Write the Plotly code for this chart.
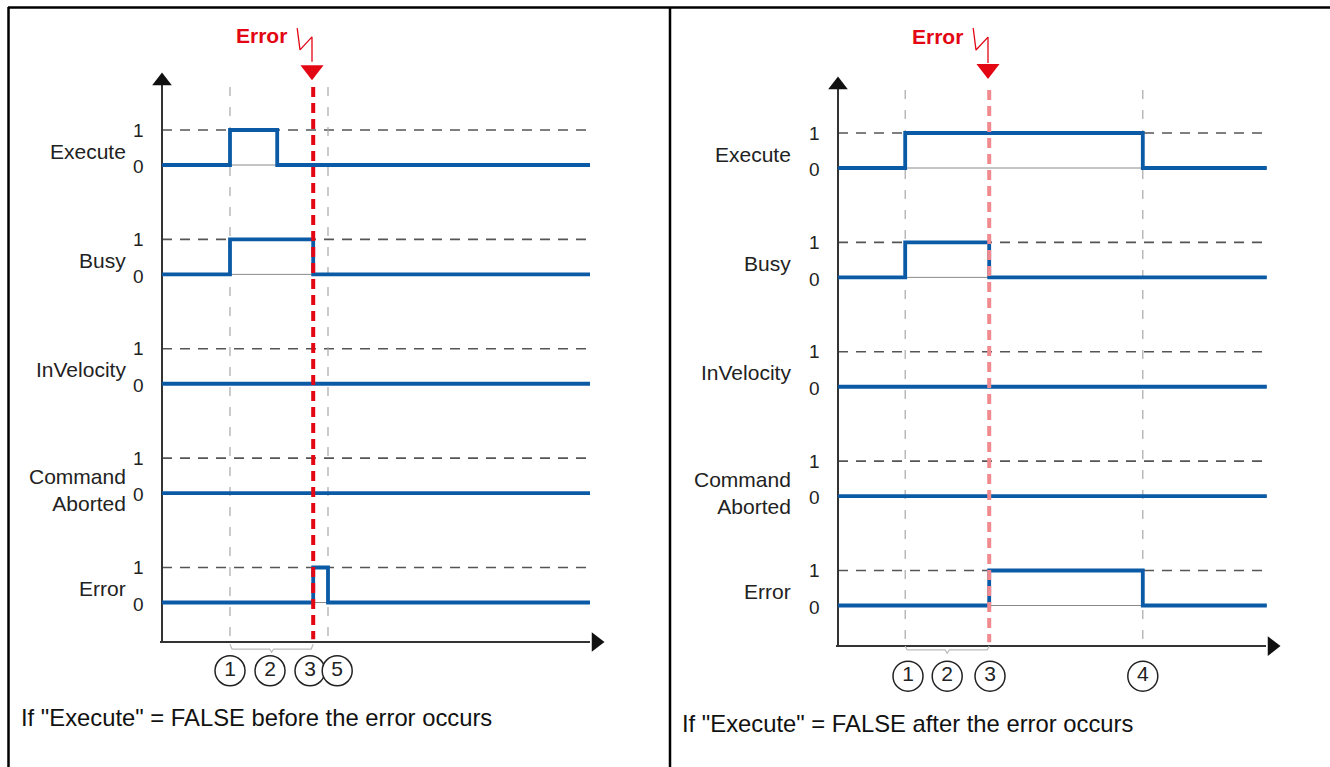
import plotly.graph_objects as go

W, H = 1330, 767
FONT = "Arial, 'Liberation Sans', sans-serif"
BLUE = "#0b5aa6"
RED = "#e30613"
PINK = "#f08a8f"

# ---------------- data ----------------
signals = ["Execute", "Busy", "InVelocity", "Command<br>Aborted", "Error"]

# left: "Execute" = FALSE before the error occurs
t_left = [0, 1.7, 2.88, 3.78, 4.15, 10.7]
execute_left = [0, 1, 0, 0, 0, 0]
busy_left = [0, 1, 1, 0, 0, 0]
invelocity_left = [0, 0, 0, 0, 0, 0]
aborted_left = [0, 0, 0, 0, 0, 0]
error_left = [0, 0, 0, 1, 0, 0]
events_left = [1.7, 4.15]
error_time_left = 3.78
steps_left = ["1", "2", "3", "5"]
steps_left_t = [1.7, 2.7, 3.7, 4.38]
caption_left = 'If "Execute" = FALSE before the error occurs'

# right: "Execute" = FALSE after the error occurs
t_right = [0, 1.68, 3.78, 7.62, 10.72]
execute_right = [0, 1, 1, 0, 0]
busy_right = [0, 1, 0, 0, 0]
invelocity_right = [0, 0, 0, 0, 0]
aborted_right = [0, 0, 0, 0, 0]
error_right = [0, 0, 1, 0, 0]
events_right = [1.68, 7.62]
error_time_right = 3.78
steps_right = ["1", "2", "3", "4"]
steps_right_t = [1.75, 2.73, 3.8, 7.62]
caption_right = 'If "Execute" = FALSE after the error occurs'

ROW = 3.125  # vertical distance between signal rows


def px(x):
    return x / W


def py(y):
    return 1 - y / H


fig = go.Figure()

panels = [
    dict(xa="x", ya="y", t=t_left,
         values=[execute_left, busy_left, invelocity_left, aborted_left, error_left],
         events=events_left, err=error_time_left, err_color=RED,
         steps=steps_left, steps_t=steps_left_t, step_y=-14.45,
         label_x=-0.85, tick_x=-0.6, top=2.66, arrow_top=2.4, red_tri=2.71,
         bottom=-13.63, err_label_y=3.69, zig=[3.91, 3.29, 3.66, 2.95],
         brace=[-13.69, -13.83, -13.92], end=10.7),
    dict(xa="x2", ya="y2", t=t_right,
         values=[execute_right, busy_right, invelocity_right, aborted_right, error_right],
         events=events_right, err=error_time_right, err_color=PINK,
         steps=steps_right, steps_t=steps_right_t, step_y=-14.52,
         label_x=-1.12, tick_x=-0.6, top=2.6, arrow_top=2.37, red_tri=2.83,
         bottom=-13.66, err_label_y=3.77, zig=[4.0, 3.37, 3.74, 3.0],
         brace=[-13.66, -13.77, -13.87], end=10.72),
]

annotations = []

for p in panels:
    xa, ya = p["xa"], p["ya"]
    end = p["end"]
    # row guide lines
    for r, name in enumerate(signals):
        base = -r * ROW
        fig.add_trace(go.Scatter(x=[0, end], y=[base, base], mode="lines",
                                 line=dict(color="#8a8a8a", width=1),
                                 xaxis=xa, yaxis=ya, hoverinfo="skip"))
        fig.add_trace(go.Scatter(x=[0, end], y=[base + 1, base + 1], mode="lines",
                                 line=dict(color="#555", width=1.6, dash="10px,8px"),
                                 xaxis=xa, yaxis=ya, hoverinfo="skip"))
        annotations.append(dict(x=p["label_x"], y=base + (0.08 if "<br>" in name else 0.4),
                                xref=xa, yref=ya, text=name, showarrow=False,
                                xanchor="right", yanchor="middle", align="right",
                                font=dict(family=FONT, size=21, color="#222")))
        for lv, txt in [(1, "1"), (-0.05, "0")]:
            annotations.append(dict(x=p["tick_x"], y=base + lv, xref=xa, yref=ya,
                                    text=txt, showarrow=False, yanchor="middle",
                                    font=dict(family=FONT, size=19, color="#222")))

    # grey event markers
    for ev in p["events"]:
        fig.add_trace(go.Scatter(x=[ev, ev], y=[2.23, -13.55], mode="lines",
                                 line=dict(color="#a8a8a8", width=1.2, dash="9px,11px"),
                                 xaxis=xa, yaxis=ya, hoverinfo="skip"))

    # axes with arrows
    fig.add_trace(go.Scatter(x=[0, 0], y=[p["bottom"], p["arrow_top"]], mode="lines",
                             line=dict(color="#333", width=2),
                             xaxis=xa, yaxis=ya, hoverinfo="skip"))
    fig.add_trace(go.Scatter(x=[-0.05, 10.7], y=[p["bottom"], p["bottom"]], mode="lines",
                             line=dict(color="#333", width=2),
                             xaxis=xa, yaxis=ya, hoverinfo="skip"))
    fig.add_trace(go.Scatter(x=[0, 10.85], y=[p["arrow_top"], p["bottom"]], mode="markers",
                             marker=dict(symbol=["triangle-up", "triangle-right"], size=17,
                                         color="#111", line=dict(width=0)),
                             xaxis=xa, yaxis=ya, hoverinfo="skip"))

    # brace under steps 1..3
    s0, s1 = p["events"][0], p["err"]
    mid = (s0 + s1) / 2
    b = p["brace"]
    fig.add_trace(go.Scatter(x=[s0, s0 + 0.05, mid - 0.05, mid, mid + 0.05, s1 - 0.05, s1],
                             y=[b[0], b[1], b[1], b[2], b[1], b[1], b[0]], mode="lines",
                             line=dict(color="#bbbbbb", width=1.2),
                             xaxis=xa, yaxis=ya, hoverinfo="skip"))

    # signals
    for r, vals in enumerate(p["values"]):
        base = -r * ROW
        fig.add_trace(go.Scatter(x=p["t"], y=[base + v for v in vals], mode="lines",
                                 line=dict(color=BLUE, width=3.8, shape="hv"),
                                 xaxis=xa, yaxis=ya, hoverinfo="skip"))

    # error line
    e = p["err"]
    fig.add_trace(go.Scatter(x=[e, e], y=[2.23, -13.55], mode="lines",
                             line=dict(color=p["err_color"], width=4, dash="10px,6px"),
                             xaxis=xa, yaxis=ya, hoverinfo="skip"))
    z = p["zig"]
    fig.add_trace(go.Scatter(x=[e - 0.4, e - 0.33, e - 0.03, e - 0.03], y=z, mode="lines",
                             line=dict(color=RED, width=1.3),
                             xaxis=xa, yaxis=ya, hoverinfo="skip"))
    fig.add_trace(go.Scatter(x=[e - 0.03], y=[p["red_tri"]], mode="markers",
                             marker=dict(symbol="triangle-down", size=20, color=RED,
                                         line=dict(width=0)),
                             xaxis=xa, yaxis=ya, hoverinfo="skip"))
    annotations.append(dict(x=e - 1.3, y=p["err_label_y"], xref=xa, yref=ya, text="<b>Error</b>",
                            showarrow=False, yanchor="middle",
                            font=dict(family=FONT, size=21, color=RED)))

    # numbered steps
    fig.add_trace(go.Scatter(x=p["steps_t"], y=[p["step_y"]] * len(p["steps_t"]),
                             mode="markers+text", text=p["steps"], textposition="middle center",
                             textfont=dict(family=FONT, size=21, color="#222"),
                             marker=dict(symbol="circle", size=30, color="white",
                                         line=dict(color="#222", width=1.5)),
                             xaxis=xa, yaxis=ya, hoverinfo="skip"))

# captions
annotations.append(dict(x=px(19), y=py(717), xref="paper", yref="paper", text=caption_left,
                        showarrow=False, xanchor="left", yanchor="middle",
                        font=dict(family=FONT, size=23.8, color="#111")))
annotations.append(dict(x=px(680), y=py(723), xref="paper", yref="paper", text=caption_right,
                        showarrow=False, xanchor="left", yanchor="middle",
                        font=dict(family=FONT, size=23.8, color="#111")))

# frame
frame = [
    dict(type="line", x0=px(8), x1=1, y0=py(7.5), y1=py(7.5)),
    dict(type="line", x0=px(8.5), x1=px(8.5), y0=py(7), y1=0),
    dict(type="line", x0=px(670), x1=px(670), y0=py(7), y1=0),
]
for s in frame:
    s.update(xref="paper", yref="paper", line=dict(color="black", width=2.5))

axis_style = dict(visible=False, fixedrange=True)
fig.update_layout(
    width=W, height=H, autosize=False,
    margin=dict(l=0, r=0, t=0, b=0),
    paper_bgcolor="white", plot_bgcolor="white",
    showlegend=False,
    xaxis=dict(domain=[0, 670 / W], range=[-162 / 40, (670 - 162) / 40], **axis_style),
    yaxis=dict(domain=[0, 1], range=[-(H - 165) / 35, 165 / 35], **axis_style),
    xaxis2=dict(domain=[670 / W, 1], range=[(670 - 838) / 40, (W - 838) / 40],
                anchor="y2", **axis_style),
    yaxis2=dict(domain=[0, 1], range=[-(H - 168) / 35, 168 / 35], anchor="x2", **axis_style),
    annotations=annotations,
    shapes=frame,
)

fig.write_html("out.html", config={"displayModeBar": False},
               post_script="document.body.style.margin='0';document.body.style.overflow='hidden';")
